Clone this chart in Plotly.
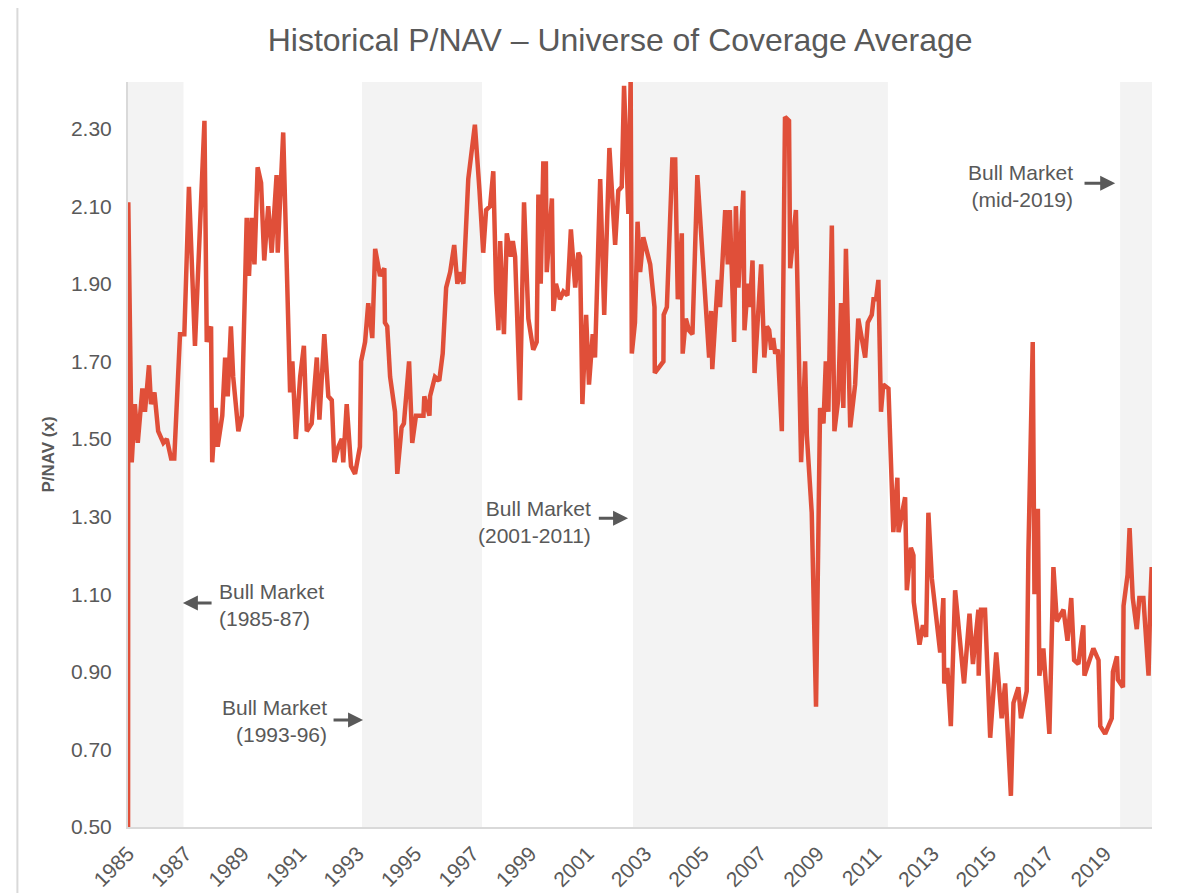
import plotly.graph_objects as go

# P/NAV history (decimal year, multiple)
years = [
    1985.00, 1985.01, 1985.13, 1985.24, 1985.34, 1985.50, 1985.59, 1985.73, 1985.80, 1985.92,
    1986.05, 1986.23, 1986.35, 1986.50, 1986.61, 1986.81, 1986.96, 1987.12, 1987.33, 1987.66,
    1987.74, 1987.89, 1987.93, 1988.05, 1988.12, 1988.28, 1988.38, 1988.47, 1988.58, 1988.66,
    1988.84, 1988.96, 1989.13, 1989.21, 1989.30, 1989.40, 1989.51, 1989.63, 1989.74, 1989.88,
    1990.00, 1990.17, 1990.21, 1990.40, 1990.64, 1990.72, 1990.84, 1990.99, 1991.12, 1991.22,
    1991.39, 1991.57, 1991.66, 1991.83, 1991.97, 1992.09, 1992.18, 1992.32, 1992.44, 1992.49,
    1992.61, 1992.76, 1992.90, 1993.07, 1993.11, 1993.25, 1993.36, 1993.50, 1993.60, 1993.77,
    1993.92, 1993.94, 1994.02, 1994.12, 1994.29, 1994.37, 1994.52, 1994.60, 1994.78, 1994.89,
    1995.02, 1995.28, 1995.31, 1995.49, 1995.51, 1995.68, 1995.83, 1995.95, 1996.07, 1996.21,
    1996.35, 1996.46, 1996.55, 1996.67, 1996.84, 1996.96, 1997.07, 1997.23, 1997.36, 1997.46,
    1997.60, 1997.71, 1997.81, 1997.89, 1997.95, 1998.08, 1998.18, 1998.32, 1998.39, 1998.47,
    1998.64, 1998.78, 1998.93, 1999.10, 1999.22, 1999.28, 1999.36, 1999.45, 1999.54, 1999.57,
    1999.75, 1999.80, 1999.89, 2000.03, 2000.15, 2000.29, 2000.41, 2000.56, 2000.67, 2000.73,
    2000.81, 2000.94, 2001.04, 2001.17, 2001.25, 2001.43, 2001.57, 2001.75, 2001.95, 2002.06,
    2002.18, 2002.26, 2002.41, 2002.49, 2002.53, 2002.64, 2002.73, 2002.82, 2002.93, 2003.17,
    2003.32, 2003.33, 2003.63, 2003.64, 2003.75, 2003.94, 2004.04, 2004.13, 2004.27, 2004.30,
    2004.41, 2004.52, 2004.64, 2004.81, 2005.22, 2005.29, 2005.33, 2005.52, 2005.60, 2005.78,
    2005.87, 2005.94, 2006.01, 2006.09, 2006.15, 2006.24, 2006.41, 2006.45, 2006.57, 2006.64,
    2006.73, 2006.80, 2007.03, 2007.14, 2007.23, 2007.31, 2007.38, 2007.45, 2007.52, 2007.61,
    2007.75, 2007.86, 2008.00, 2008.04, 2008.24, 2008.42, 2008.56, 2008.62, 2008.79, 2008.94,
    2009.08, 2009.20, 2009.28, 2009.37, 2009.49, 2009.58, 2009.71, 2009.81, 2009.89, 2009.98,
    2010.13, 2010.30, 2010.41, 2010.65, 2010.74, 2010.88, 2010.94, 2011.03, 2011.11, 2011.20,
    2011.28, 2011.46, 2011.63, 2011.77, 2011.81, 2012.04, 2012.10, 2012.24, 2012.33, 2012.34,
    2012.54, 2012.66, 2012.77, 2012.85, 2012.97, 2013.26, 2013.37, 2013.40, 2013.51, 2013.63,
    2013.78, 2014.09, 2014.28, 2014.40, 2014.59, 2014.60, 2014.68, 2014.82, 2015.00, 2015.21,
    2015.40, 2015.52, 2015.72, 2015.81, 2015.98, 2016.07, 2016.27, 2016.33, 2016.48, 2016.54,
    2016.66, 2016.71, 2016.85, 2017.06, 2017.20, 2017.32, 2017.55, 2017.69, 2017.82, 2017.92,
    2018.07, 2018.24, 2018.28, 2018.59, 2018.77, 2018.83, 2019.00, 2019.11, 2019.23, 2019.27,
    2019.41, 2019.44, 2019.62, 2019.64, 2019.78, 2019.85, 2019.96, 2020.10, 2020.19, 2020.33,
    2020.51, 2020.57, 2020.62,
]
pnav = [
    0.00, 2.11, 1.44, 1.59, 1.49, 1.63, 1.57, 1.69, 1.59, 1.62,
    1.52, 1.49, 1.50, 1.45, 1.45, 1.77, 1.77, 2.15, 1.74, 2.32,
    1.75, 1.79, 1.44, 1.58, 1.48, 1.56, 1.71, 1.61, 1.79, 1.66,
    1.52, 1.56, 2.07, 1.92, 2.07, 1.95, 2.20, 2.16, 1.96, 2.10,
    1.98, 2.18, 1.98, 2.29, 1.62, 1.70, 1.50, 1.66, 1.74, 1.52,
    1.54, 1.71, 1.55, 1.77, 1.61, 1.60, 1.44, 1.48, 1.50, 1.44,
    1.59, 1.43, 1.41, 1.48, 1.70, 1.75, 1.85, 1.76, 1.99, 1.92,
    1.94, 1.80, 1.79, 1.66, 1.57, 1.41, 1.53, 1.54, 1.70, 1.49,
    1.56, 1.56, 1.61, 1.56, 1.61, 1.66, 1.65, 1.72, 1.89, 1.93,
    2.00, 1.90, 1.93, 1.90, 2.17, 2.25, 2.31, 2.14, 1.98, 2.09,
    2.10, 2.19, 1.88, 1.78, 2.01, 1.77, 2.03, 1.97, 2.01, 1.97,
    1.60, 2.11, 1.81, 1.73, 1.75, 2.13, 1.90, 2.21, 2.21, 1.93,
    2.12, 1.83, 1.90, 1.86, 1.88, 1.87, 2.04, 1.89, 1.98, 1.97,
    1.59, 1.82, 1.64, 1.77, 1.71, 2.17, 1.82, 2.25, 2.00, 2.14,
    2.15, 2.41, 2.08, 2.43, 1.72, 1.80, 2.06, 1.93, 2.02, 1.95,
    1.84, 1.67, 1.70, 1.82, 1.84, 2.22, 2.22, 1.86, 2.03, 1.72,
    1.81, 1.78, 1.77, 2.18, 1.71, 1.83, 1.68, 1.91, 1.84, 2.09,
    1.95, 2.09, 1.95, 1.75, 2.10, 1.89, 2.14, 1.78, 1.90, 1.84,
    1.96, 1.67, 1.95, 1.71, 1.79, 1.78, 1.73, 1.76, 1.72, 1.73,
    1.52, 2.33, 2.32, 1.94, 2.09, 1.44, 1.70, 1.51, 1.31, 0.81,
    1.58, 1.54, 1.70, 1.57, 2.05, 1.52, 1.60, 1.85, 1.58, 1.99,
    1.53, 1.64, 1.81, 1.71, 1.80, 1.82, 1.86, 1.86, 1.91, 1.57,
    1.64, 1.63, 1.26, 1.40, 1.26, 1.35, 1.11, 1.22, 1.20, 1.08,
    0.97, 1.02, 0.99, 1.31, 1.14, 0.95, 1.09, 0.87, 0.91, 0.76,
    1.11, 0.87, 1.05, 0.92, 1.06, 0.89, 1.06, 1.06, 0.73, 0.95,
    0.78, 0.87, 0.58, 0.82, 0.86, 0.78, 0.85, 1.21, 1.75, 1.10,
    1.32, 0.89, 0.96, 0.74, 1.17, 1.03, 1.06, 0.98, 1.09, 0.93,
    0.92, 1.02, 0.89, 0.96, 0.93, 0.76, 0.74, 0.76, 0.78, 0.90,
    0.94, 0.88, 0.86, 1.07, 1.15, 1.27, 1.09, 1.01, 1.09, 1.09,
    0.89, 1.08, 1.17,
]

# bull market periods shaded on the chart
bull_starts = [1985.0, 1993.14, 2002.57, 2019.52]
bull_ends = [1986.93, 1997.32, 2011.44, 2020.63]

year_ticks = list(range(1985, 2020, 2))
y_ticks = [0.5, 0.7, 0.9, 1.1, 1.3, 1.5, 1.7, 1.9, 2.1, 2.3]

grey = "#595959"
font_family = "Arial, Liberation Sans, sans-serif"

fig = go.Figure()

fig.add_trace(
    go.Scatter(
        x=years,
        y=pnav,
        mode="lines",
        line=dict(color="#E04F39", width=4.5),
        showlegend=False,
        hoverinfo="skip",
    )
)

# shaded bull market bands
for x0, x1 in zip(bull_starts, bull_ends):
    fig.add_shape(
        type="rect", xref="x", yref="paper",
        x0=x0, x1=x1, y0=0, y1=1,
        fillcolor="#F3F3F3", line=dict(width=0), layer="below",
    )

# outer chart frame
fig.add_shape(
    type="rect", xref="paper", yref="paper",
    x0=-0.108, x1=1.043, y0=-0.2, y1=1.101,
    line=dict(color="#D9D9D9", width=2), fillcolor="rgba(0,0,0,0)",
)

# annotation labels: (text, x, y, anchor, arrow tail x, arrow head x, arrow y)
labels = [
    ("Bull Market<br>(1985-87)", 1988.10, 1.072, "left", 1987.96, 1986.91, 1.077),
    ("Bull Market<br>(1993-96)", 1991.99, 0.773, "right", 1992.10, 1993.18, 0.776),
    ("Bull Market<br>(2001-2011)", 2001.18, 1.285, "right", 2001.33, 2002.40, 1.296),
    ("Bull Market<br>(mid-2019)", 2017.96, 2.152, "right", 2018.23, 2019.35, 2.159),
]
for text, tx, ty, anchor, ax, hx, ay in labels:
    fig.add_annotation(
        x=tx, y=ty, xref="x", yref="y", text=text, showarrow=False,
        xanchor=anchor, yanchor="middle", align=anchor,
        font=dict(size=21, color=grey, family=font_family),
    )
    fig.add_annotation(
        x=hx, y=ay, ax=ax, ay=ay, xref="x", yref="y", axref="x", ayref="y",
        text="", showarrow=True, arrowhead=2, arrowsize=1, arrowwidth=3,
        arrowcolor=grey, standoff=0, startstandoff=0,
    )

fig.update_layout(
    width=1191,
    height=885,
    margin=dict(l=120, r=47, t=74, b=66),
    paper_bgcolor="white",
    plot_bgcolor="white",
    font=dict(family=font_family, color=grey, size=21),
    title=dict(
        text="Historical P/NAV \u2013 Universe of Coverage Average",
        x=0.514, xref="container", xanchor="center",
        y=0.964, yref="container", yanchor="middle",
        font=dict(size=32, color=grey, family=font_family),
    ),
)

fig.update_xaxes(
    range=[1985, 2020.63],
    tickvals=year_ticks,
    ticktext=[str(y) for y in year_ticks],
    tickangle=-45,
    tickfont=dict(size=21, color=grey),
    showgrid=False,
    zeroline=False,
    showline=True,
    linecolor="#D9D9D9",
    linewidth=2,
    ticks="",
    ticklabelstandoff=4,
    automargin=False,
)

fig.update_yaxes(
    range=[0.5, 2.42],
    tickvals=y_ticks,
    tickformat=".2f",
    tickfont=dict(size=21, color=grey),
    showgrid=False,
    zeroline=False,
    showline=True,
    linecolor="#D9D9D9",
    linewidth=2,
    ticks="",
    ticklabelstandoff=10,
    automargin=False,
    title=dict(
        text="<b>P/NAV (x)</b>",
        font=dict(size=17, color=grey),
        standoff=12,
    ),
)

fig.write_html("out.html")
